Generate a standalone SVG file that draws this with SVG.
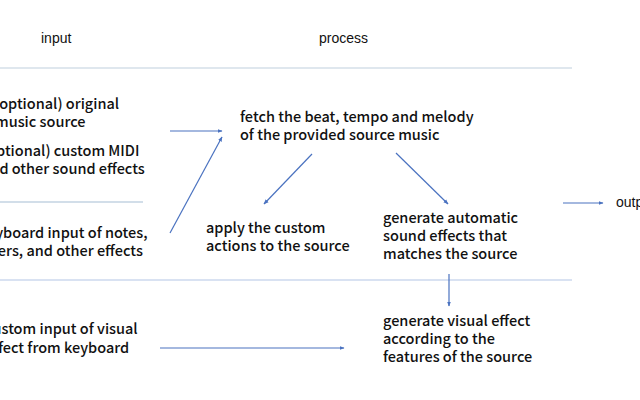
<svg xmlns="http://www.w3.org/2000/svg" width="640" height="400" viewBox="0 0 640 400">
<defs>
<marker id="ah" viewBox="0 0 10 10" refX="9" refY="5" markerWidth="5" markerHeight="5" orient="auto" markerUnits="userSpaceOnUse">
<path d="M0,1 L10,5 L0,9 Z" fill="#4a72c0"/>
</marker>
<style>
.hd{font-family:"Liberation Sans",Arial,sans-serif;font-size:14px;fill:#111}
.t{font-family:"Noto Sans CJK SC","Liberation Sans",sans-serif;font-size:14.5px;font-weight:500;fill:#111}
.c{stroke:#4a72c0;stroke-width:1.2;fill:none;marker-end:url(#ah)}
.sep{stroke:#d5dfe8;stroke-width:1.5}
</style>
</defs>
<rect width="640" height="400" fill="#fff"/>
<g id="headers">
<text class="hd" x="41" y="43">input</text>
<text class="hd" x="319" y="43">process</text>
</g>
<g id="separators">
<line class="sep" x1="0" y1="68" x2="572" y2="68"/>
<line class="sep" x1="0" y1="202" x2="143" y2="202" style="stroke:#c3d3e2"/>
<line class="sep" x1="0" y1="280" x2="572" y2="280" style="stroke:#cdd9ee"/>
</g>
<g id="n-original">
<text class="t" x="-6" y="109">(optional) original</text>
<text class="t" x="-5" y="127">music source</text>
</g>
<g id="n-midi">
<text class="t" x="-18" y="156">(optional) custom MIDI</text>
<text class="t" x="-18" y="174">and other sound effects</text>
</g>
<g id="n-keyboard">
<text class="t" x="-21" y="238">keyboard input of notes,</text>
<text class="t" x="-43" y="256">numbers, and other effects</text>
</g>
<g id="n-visual-input">
<text class="t" x="-15" y="334">custom input of visual</text>
<text class="t" x="-15" y="353">effect from keyboard</text>
</g>
<g id="n-fetch">
<text class="t" x="240" y="122">fetch the beat, tempo and melody</text>
<text class="t" x="240" y="140">of the provided source music</text>
</g>
<g id="n-apply">
<text class="t" x="206" y="233">apply the custom</text>
<text class="t" x="206" y="251">actions to the source</text>
</g>
<g id="n-generate">
<text class="t" x="383" y="223">generate automatic</text>
<text class="t" x="383" y="241">sound effects that</text>
<text class="t" x="383" y="259">matches the source</text>
</g>
<g id="n-visual">
<text class="t" x="383" y="326">generate visual effect</text>
<text class="t" x="383" y="344">according to the</text>
<text class="t" x="383" y="362">features of the source</text>
</g>
<g id="n-output">
<text class="hd" x="616" y="207">output</text>
</g>
<g id="connectors">
<line class="c" x1="170" y1="131" x2="222" y2="131"/>
<line class="c" x1="170" y1="233" x2="222" y2="137"/>
<line class="c" x1="312" y1="154" x2="264" y2="204"/>
<line class="c" x1="396" y1="153" x2="448" y2="204"/>
<line class="c" x1="563" y1="203" x2="603" y2="203"/>
<line class="c" x1="449" y1="274" x2="449" y2="306"/>
<line class="c" x1="160" y1="348" x2="344" y2="348"/>
</g>
</svg>
